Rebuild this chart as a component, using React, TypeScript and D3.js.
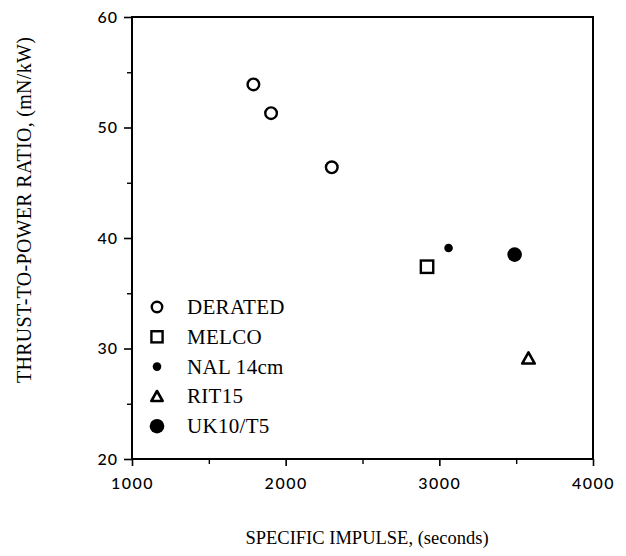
import React, { useEffect, useRef } from 'react';
import * as d3 from 'd3';

// legend order / series names
const seriesNames = ['DERATED', 'MELCO', 'NAL 14cm', 'RIT15', 'UK10/T5'];

// specific impulse (s) and thrust-to-power (mN/kW) per series
const deratedIsp = [1790, 1905, 2300];
const deratedTp = [53.9, 51.3, 46.4];
const melcoIsp = [2920];
const melcoTp = [37.4];
const nalIsp = [3060];
const nalTp = [39.1];
const ritIsp = [3580];
const ritTp = [29.1];
const ukIsp = [3490];
const ukTp = [38.5];

const xTicks = [1000, 2000, 3000, 4000];
const xMinor = [1500, 2500, 3500];
const yTicks = [20, 30, 40, 50, 60];
const yMinor = [25, 35, 45, 55];

const serif = '"Liberation Serif", "DejaVu Serif", serif';
const tickFont = 'Lato, "Open Sans", sans-serif';

function drawSymbol(g: any, kind: string, x: number, y: number, legend = false) {
  const s = legend ? 0.9 : 1;
  if (kind === 'DERATED') {
    g.append('circle').attr('cx', x).attr('cy', y).attr('r', 5.8 * s)
      .attr('fill', 'none').attr('stroke', '#000').attr('stroke-width', 2.4);
  } else if (kind === 'MELCO') {
    const h = 6.2 * s;
    g.append('rect').attr('x', x - h).attr('y', y - h).attr('width', 2 * h).attr('height', 2 * h)
      .attr('fill', 'none').attr('stroke', '#000').attr('stroke-width', 2.4);
  } else if (kind === 'NAL 14cm') {
    g.append('circle').attr('cx', x).attr('cy', y).attr('r', 4.3).attr('fill', '#000');
  } else if (kind === 'RIT15') {
    const h = 6 * s;
    g.append('path')
      .attr('d', `M${x},${y - h}L${x + h * 1.05},${y + h * 0.85}L${x - h * 1.05},${y + h * 0.85}Z`)
      .attr('fill', 'none').attr('stroke', '#000').attr('stroke-width', 2.6).attr('stroke-linejoin', 'round');
  } else {
    g.append('circle').attr('cx', x).attr('cy', y).attr('r', 7.3).attr('fill', '#000');
  }
}

export default function App() {
  const ref = useRef<SVGSVGElement>(null);

  useEffect(() => {
    const svg = d3.select(ref.current);
    svg.selectAll('*').remove();

    const left = 132, right = 593, top = 17, bottom = 459;
    const x = d3.scaleLinear().domain([1000, 4000]).range([left, right]);
    const y = d3.scaleLinear().domain([20, 60]).range([bottom, top]);

    const g = svg.append('g');

    // frame
    g.append('rect').attr('x', left).attr('y', top).attr('width', right - left).attr('height', bottom - top)
      .attr('fill', 'none').attr('stroke', '#000').attr('stroke-width', 2);

    // x axis
    const xAxis = g.append('g').attr('transform', `translate(0,${bottom})`)
      .call(d3.axisBottom(x).tickValues(xTicks).tickSize(7).tickPadding(12).tickFormat(d3.format('d')));
    xAxis.select('.domain').remove();
    xAxis.selectAll('line').attr('stroke-width', 1.6);
    xAxis.selectAll('text').attr('font-family', tickFont).attr('font-size', 16).attr('letter-spacing', 1.5)
      .attr('fill', '#000').attr('font-weight', 500);
    g.append('g').attr('transform', `translate(0,${bottom})`)
      .call(d3.axisBottom(x).tickValues(xMinor).tickSize(5).tickFormat(() => ''))
      .call(a => a.select('.domain').remove())
      .selectAll('line').attr('stroke-width', 1.4);

    // y axis
    const yAxis = g.append('g').attr('transform', `translate(${left},0)`)
      .call(d3.axisLeft(y).tickValues(yTicks).tickSize(8).tickPadding(6).tickFormat(d3.format('d')));
    yAxis.select('.domain').remove();
    yAxis.selectAll('line').attr('stroke-width', 1.6);
    yAxis.selectAll('text').attr('font-family', tickFont).attr('font-size', 16).attr('letter-spacing', 1)
      .attr('fill', '#000').attr('font-weight', 500);
    g.append('g').attr('transform', `translate(${left},0)`)
      .call(d3.axisLeft(y).tickValues(yMinor).tickSize(5).tickFormat(() => ''))
      .call(a => a.select('.domain').remove())
      .selectAll('line').attr('stroke-width', 1.4);

    // points
    const sets: [string, number[], number[]][] = [
      ['DERATED', deratedIsp, deratedTp],
      ['MELCO', melcoIsp, melcoTp],
      ['NAL 14cm', nalIsp, nalTp],
      ['RIT15', ritIsp, ritTp],
      ['UK10/T5', ukIsp, ukTp],
    ];
    sets.forEach(([name, xs, ys]) => {
      xs.forEach((v, i) => drawSymbol(g, name, x(v), y(ys[i])));
    });

    // legend
    const leg = g.append('g');
    seriesNames.forEach((name, i) => {
      const cy = 307 + i * 29.8;
      drawSymbol(leg, name, 157, cy, true);
      leg.append('text').attr('x', 187).attr('y', cy + 7)
        .attr('font-family', serif).attr('font-size', 21).attr('letter-spacing', 0.3).text(name);
    });

    // axis titles
    g.append('text').attr('x', 367).attr('y', 544).attr('text-anchor', 'middle')
      .attr('font-family', serif).attr('font-size', 18.5).text('SPECIFIC IMPULSE, (seconds)');
    g.append('text').attr('transform', 'translate(31,210) rotate(-90)').attr('text-anchor', 'middle')
      .attr('font-family', serif).attr('font-size', 20).attr('letter-spacing', 0.3)
      .text('THRUST-TO-POWER RATIO, (mN/kW)');
  }, []);

  return (
    <svg ref={ref} width={626} height={556}
      style={{ position: 'absolute', left: 0, top: 0, background: '#fff' }} />
  );
}
